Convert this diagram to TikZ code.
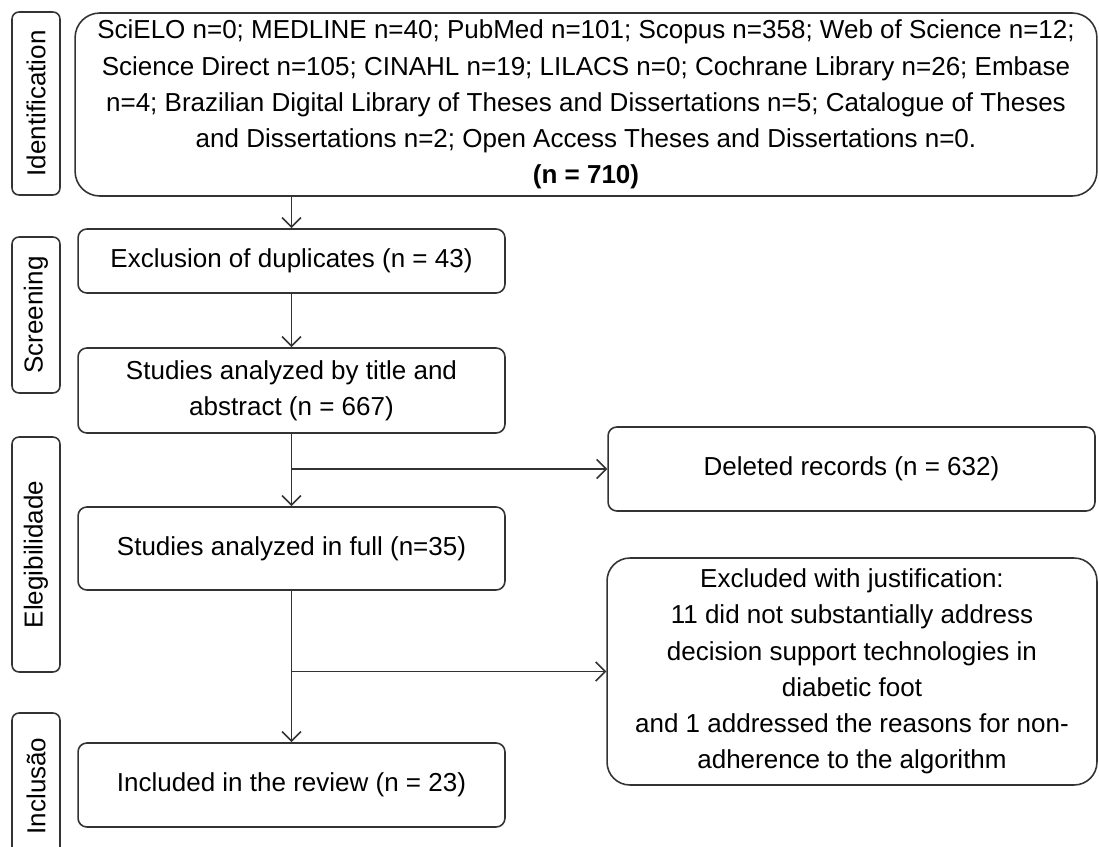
\documentclass[tikz,border=0pt]{standalone}
\usepackage{fontspec}
\setmainfont{Liberation Sans}
\usepackage{tikz}
\usetikzlibrary{positioning,arrows.meta}
\newcommand\flowfont{\fontsize{14.8}{20.6}\selectfont}
\tikzset{
  flowbox/.style={draw=black!80, line width=0.9pt, rounded corners=5pt, align=center, font=\flowfont,
    inner sep=0pt, fill=white},
  leftbox/.style={flowbox, minimum width=8.54cm},
  flowarrow/.style={-{Straight Barb[length=1.9mm,width=3.8mm]}, draw=black!80, line width=0.9pt},
  phasebox/.style={draw=black!80, line width=0.9pt, rotate=90, rounded corners=4pt, font=\flowfont,
    minimum height=0.96cm, inner sep=0pt},
}

\begin{document}
\begin{tikzpicture}[x=0.02cm, y=-0.02cm]
  \path[use as bounding box, fill=white] (0,0) rectangle (1099,846);

  \node[phasebox, minimum width=3.66cm] (idlab) at (36,103.5) {Identification};
  \node[phasebox, minimum width=3.12cm] (scrlab) at (36,315) {Screening};
  \node[phasebox, minimum width=4.70cm] (eliglab) at (36,554.5) {Elegibilidade};
  \node[phasebox, minimum width=2.92cm] (inclab) at (36,786) {Inclusão};

  \node[flowbox, rounded corners=14pt, minimum width=20.44cm, minimum height=3.66cm] (sources) at (586,104.5)
    {SciELO n=0; MEDLINE n=40; PubMed n=101; Scopus n=358; Web of Science n=12;\\
     Science Direct n=105; CINAHL n=19; LILACS n=0; Cochrane Library n=26; Embase\\
     n=4; Brazilian Digital Library of Theses and Dissertations n=5; Catalogue of Theses\\
     and Dissertations n=2; Open Access Theses and Dissertations n=0.\\
     \textbf{(n = 710)}};
  \node[leftbox, minimum height=1.28cm] (dupl) at (291.5,261) {Exclusion of duplicates (n = 43)};
  \node[leftbox, minimum height=1.70cm] (titleabs) at (291.5,390.5) {Studies analyzed by title and\\abstract (n = 667)};
  \node[leftbox, minimum height=1.66cm] (fulltext) at (291.5,548.5) {Studies analyzed in full (n=35)};
  \node[leftbox, minimum height=1.68cm] (included) at (291.5,785) {Included in the review (n = 23)};
  \node[flowbox, minimum width=9.74cm, minimum height=1.68cm] (deleted) at (851.5,469) {Deleted records (n = 632)};
  \node[flowbox, rounded corners=13pt, minimum width=9.80cm, minimum height=4.54cm] (justif) at (852,671.5)
    {Excluded with justification:\\
     11 did not substantially address\\
     decision support technologies in\\
     diabetic foot\\
     and 1 addressed the reasons for non-\\
     adherence to the algorithm};

  \draw[flowarrow] (dupl.north |- sources.south) -- (dupl.north);
  \draw[flowarrow] (dupl) -- (titleabs);
  \draw[flowarrow] (titleabs) -- (fulltext);
  \draw[flowarrow] (titleabs.south |- deleted.west) -- (deleted.west);
  \draw[flowarrow] (fulltext) -- (included);
  \draw[flowarrow] (fulltext.south |- justif.west) -- (justif.west);
\end{tikzpicture}
\end{document}
